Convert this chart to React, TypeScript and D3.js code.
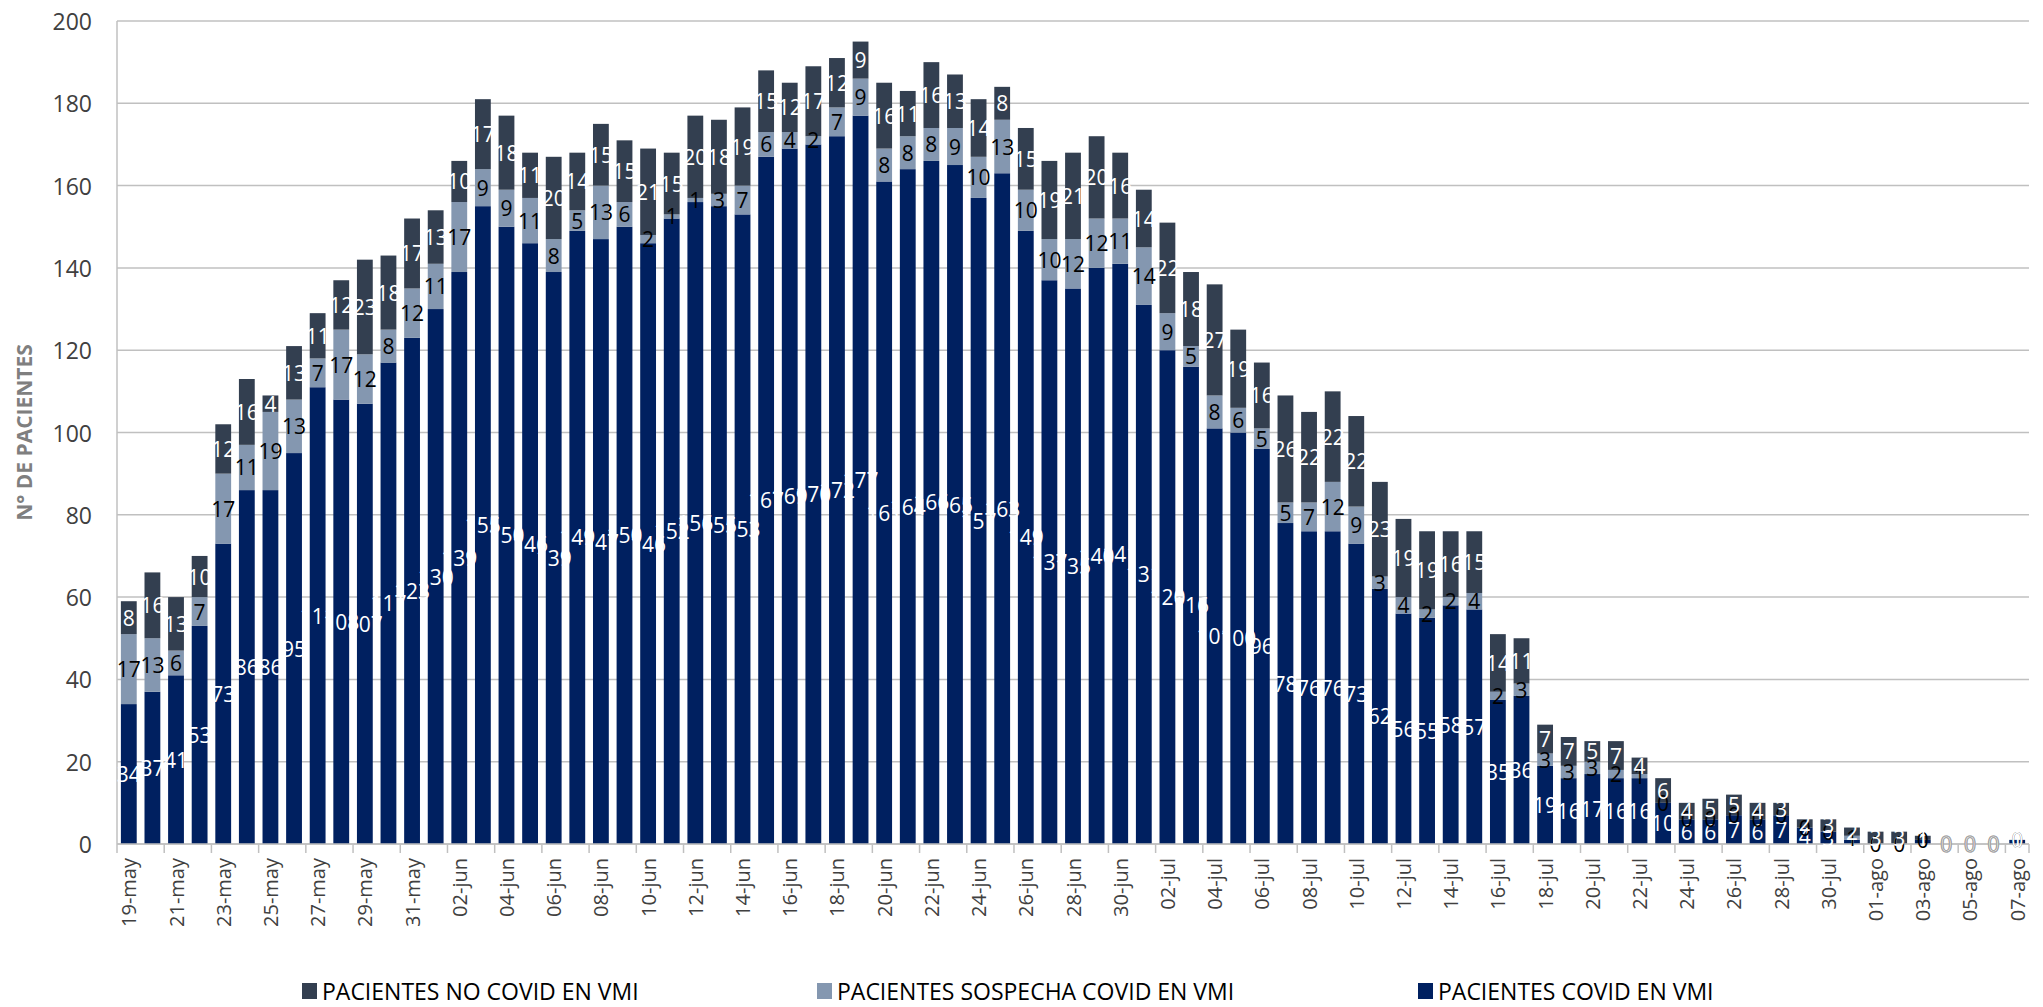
import React from "react";
import * as d3 from "d3";

const dates = [
  "19-may","20-may","21-may","22-may","23-may","24-may","25-may","26-may","27-may","28-may","29-may","30-may","31-may",
  "01-jun","02-jun","03-jun","04-jun","05-jun","06-jun","07-jun","08-jun","09-jun","10-jun","11-jun","12-jun","13-jun","14-jun","15-jun","16-jun","17-jun","18-jun","19-jun","20-jun","21-jun","22-jun","23-jun","24-jun","25-jun","26-jun","27-jun","28-jun","29-jun","30-jun",
  "01-jul","02-jul","03-jul","04-jul","05-jul","06-jul","07-jul","08-jul","09-jul","10-jul","11-jul","12-jul","13-jul","14-jul","15-jul","16-jul","17-jul","18-jul","19-jul","20-jul","21-jul","22-jul","23-jul","24-jul","25-jul","26-jul","27-jul","28-jul","29-jul","30-jul","31-jul",
  "01-ago","02-ago","03-ago","04-ago","05-ago","06-ago","07-ago"
];

const covid = [
  34,37,41,53,73,86,86,95,111,108,107,117,123,
  130,139,155,150,146,139,149,147,150,146,152,156,155,153,167,169,170,172,177,161,164,166,165,157,163,149,137,135,140,141,
  131,120,116,101,100,96,78,76,76,73,62,56,55,58,57,35,36,19,16,17,16,16,10,6,6,7,6,7,4,3,1,
  0,0,1,0,0,0,1
];
const sospecha = [
  17,13,6,7,17,11,19,13,7,17,12,8,12,
  11,17,9,9,11,8,5,13,6,2,1,1,3,7,6,4,2,7,9,8,8,8,9,10,13,10,10,12,12,11,
  14,9,5,8,6,5,5,7,12,9,3,4,2,2,4,2,3,3,3,3,2,1,0,0,0,0,0,0,0,0,1,
  0,0,0,0,0,0,0
];
const noCovid = [
  8,16,13,10,12,16,4,13,11,12,23,18,17,
  13,10,17,18,11,20,14,15,15,21,15,20,18,19,15,12,17,12,9,16,11,16,13,14,8,15,19,21,20,16,
  14,22,18,27,19,16,26,22,22,22,23,19,19,16,15,14,11,7,7,5,7,4,6,4,5,5,4,3,2,3,2,
  3,3,1,0,0,0,0
];
const yTicks = [0, 20, 40, 60, 80, 100, 120, 140, 160, 180, 200];

const seriesNames = ["PACIENTES NO COVID EN VMI", "PACIENTES SOSPECHA COVID EN VMI", "PACIENTES COVID EN VMI"];
const seriesKeys = ["covid", "sospecha", "noCovid"];
const colors: Record<string, string> = { covid: "#002060", sospecha: "#8497B0", noCovid: "#333F50" };
const labelColors: Record<string, string> = { covid: "#ffffff", sospecha: "#000000", noCovid: "#ffffff" };

const W = 2043, H = 1007;
const left = 117, right = 2029, top = 21, bottom = 844;
const font = "'Open Sans', 'DejaVu Sans', sans-serif";

export default function App() {
  const rows = dates.map((d, i) => ({ date: d, covid: covid[i], sospecha: sospecha[i], noCovid: noCovid[i] }));
  const x = d3.scaleBand().domain(dates).range([left, right]).paddingInner(0.33).paddingOuter(0.165);
  const y = d3.scaleLinear().domain([0, 200]).range([bottom, top]);
  const stack = d3.stack<any>().keys(seriesKeys)(rows);
  const step = x.step();

  return (
    <svg width={W} height={H} style={{ position: "absolute", left: 0, top: 0, background: "#fff" }} fontFamily={font}>
      {yTicks.map((t) => (
        <g key={t}>
          <line x1={left} x2={right} y1={y(t)} y2={y(t)} stroke="#c0c0c0" strokeWidth={1.5} />
          <text x={92} y={y(t)} textAnchor="end" dominantBaseline="central" fontSize={23} fill="#404040">{t}</text>
        </g>
      ))}
      <line x1={left} x2={left} y1={top} y2={bottom} stroke="#c0c0c0" strokeWidth={1.5} />
      {stack.map((s) => (
        <g key={s.key} fill={colors[s.key]}>
          {s.map((d, i) => (
            <rect key={i} x={x(dates[i])} width={x.bandwidth()} y={y(d[1])} height={Math.max(0, y(d[0]) - y(d[1]))} />
          ))}
        </g>
      ))}
      {dates.map((d, i) =>
        i % 2 === 0 ? (
          <line key={"t" + i} x1={left + i * step} x2={left + i * step} y1={bottom} y2={bottom + 9} stroke="#c0c0c0" strokeWidth={1.5} />
        ) : null
      )}
      <line x1={right} x2={right} y1={bottom} y2={bottom + 9} stroke="#c0c0c0" strokeWidth={1.5} />
      <line x1={left} x2={right} y1={bottom} y2={bottom} stroke="#c0c0c0" strokeWidth={1.5} />
      {stack.map((s) => (
        <g key={"l" + s.key}>
          {s.map((d, i) => {
            const v = d[1] - d[0];
            const cx = (x(dates[i]) as number) + x.bandwidth() / 2;
            const cy = (y(d[0]) + y(d[1])) / 2;
            const total = covid[i] + sospecha[i] + noCovid[i];
            const onWhite = labelColors[s.key] === "#ffffff" && total === 0;
            return (
              <text key={i} x={cx} y={cy} textAnchor="middle" dominantBaseline="central" fontSize={21}
                fill={labelColors[s.key]} stroke={onWhite ? "#a6a6a6" : "none"} strokeWidth={onWhite ? 1 : 0}>
                {v}
              </text>
            );
          })}
        </g>
      ))}
      {dates.map((d, i) =>
        i % 2 === 0 ? (
          <text key={"x" + i} transform={`translate(${(x(d) as number) + x.bandwidth() / 2},${bottom + 14}) rotate(-90)`}
            textAnchor="end" dominantBaseline="central" fontSize={20} fill="#404040">{d}</text>
        ) : null
      )}
      <text transform={`translate(24,${(top + bottom) / 2}) rotate(-90)`} textAnchor="middle" dominantBaseline="central"
        fontSize={21} fontWeight="bold" fill="#7f7f7f">N° DE PACIENTES</text>
      {[
        { key: "noCovid", name: seriesNames[0], x: 302 },
        { key: "sospecha", name: seriesNames[1], x: 817 },
        { key: "covid", name: seriesNames[2], x: 1418 },
      ].map((l) => (
        <g key={l.key}>
          <rect x={l.x} y={983} width={15} height={16} fill={colors[l.key]} />
          <text x={l.x + 20} y={991} dominantBaseline="central" fontSize={23} fill="#000">{l.name}</text>
        </g>
      ))}
    </svg>
  );
}
